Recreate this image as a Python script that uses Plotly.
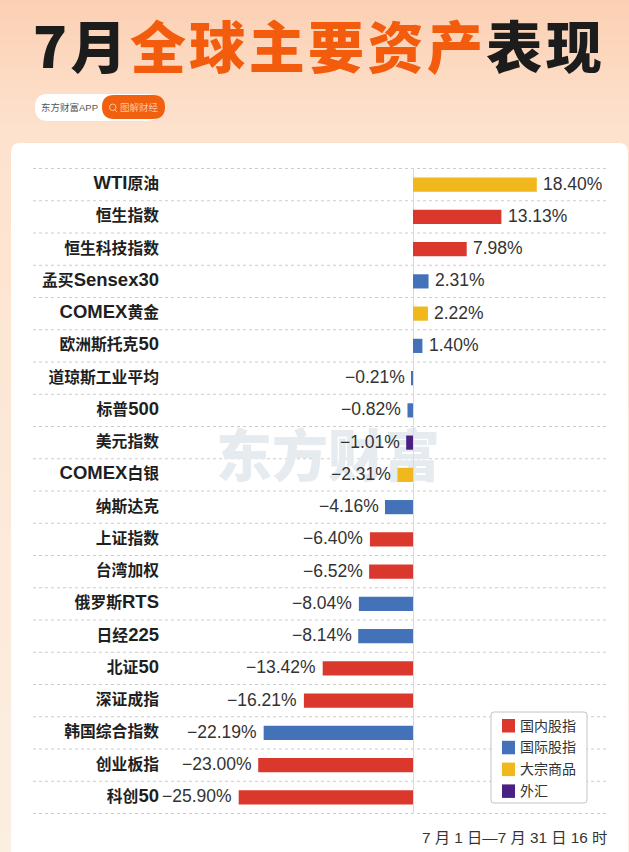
import re

import plotly.graph_objects as go

W, H = 629, 852

names = ['WTI原油', '恒生指数', '恒生科技指数', '孟买Sensex30', 'COMEX黄金', '欧洲斯托克50',
         '道琼斯工业平均', '标普500', '美元指数', 'COMEX白银', '纳斯达克', '上证指数',
         '台湾加权', '俄罗斯RTS', '日经225', '北证50', '深证成指', '韩国综合指数', '创业板指', '科创50']
changes = [18.40, 13.13, 7.98, 2.31, 2.22, 1.40, -0.21, -0.82, -1.01, -2.31, -4.16, -6.40,
           -6.52, -8.04, -8.14, -13.42, -16.21, -22.19, -23.00, -25.90]
groups = ['大宗商品', '国内股指', '国内股指', '国际股指', '大宗商品', '国际股指', '国际股指', '国际股指', '外汇', '大宗商品',
          '国际股指', '国内股指', '国内股指', '国际股指', '国际股指', '国内股指', '国内股指', '国际股指', '国内股指', '国内股指']
group_order = ['国内股指', '国际股指', '大宗商品', '外汇']
group_colors = ['#da382c', '#4472b8', '#f1b81e', '#4c1f82']

FONT = 'Liberation Sans, Arial, Noto Sans CJK SC'
CJK_BOLD = 'Noto Sans CJK SC'


def px_x(p):
    return p / W


def px_y(p):
    return 1 - p / H


# pixel positions of the plot, zero line sits at 413 and one percent is 6.73px
left, right, top, bottom = 160, 607, 168, 814
zero_px, unit_px = 413, 6.73


def lab(v):
    s = f'{abs(v):.2f}%'
    return '\u2212' + s if v < 0 else s


def tick(name):
    # chinese glyphs run smaller than the latin ones in these labels
    return re.sub(r'([^\x00-\x7f]+)', r'<span style="font-size:15.8px">\1</span>', name)


fig = go.Figure()
for g, c in zip(group_order, group_colors):
    idx = [i for i, x in enumerate(groups) if x == g]
    fig.add_trace(go.Bar(y=[names[i] for i in idx],
                         x=[changes[i] for i in idx],
                         name=g,
                         orientation='h',
                         width=0.44,
                         showlegend=False,
                         marker=dict(color=c, line=dict(width=0))))


def blend(a, b, t):
    return 'rgb(' + ','.join(str(round(x + (y - x) * t)) for x, y in zip(a, b)) + ')'


shapes = []
# peach background, drawn in thin bands since layout has no gradient
for i in range(28):
    shapes.append(dict(type='rect', xref='paper', yref='paper', layer='below',
                       x0=0, x1=1, y0=px_y(i * 5), y1=px_y((i + 1) * 5),
                       fillcolor=blend((252, 208, 180), (253, 227, 207), i / 27), line_width=0))
for i in range(24):
    shapes.append(dict(type='rect', xref='paper', yref='paper', layer='below',
                       x0=0, x1=1, y0=px_y(140 + i * 30), y1=px_y(140 + (i + 1) * 30),
                       fillcolor=blend((253, 227, 207), (251, 239, 226), i / 23), line_width=0))


def round_rect(x0, y0, x1, y1, r):
    # rounded rectangle as a path in paper fractions
    return (f'M {px_x(x0 + r)} {px_y(y0)} L {px_x(x1 - r)} {px_y(y0)} '
            f'Q {px_x(x1)} {px_y(y0)} {px_x(x1)} {px_y(y0 + r)} L {px_x(x1)} {px_y(y1 - r)} '
            f'Q {px_x(x1)} {px_y(y1)} {px_x(x1 - r)} {px_y(y1)} L {px_x(x0 + r)} {px_y(y1)} '
            f'Q {px_x(x0)} {px_y(y1)} {px_x(x0)} {px_y(y1 - r)} L {px_x(x0)} {px_y(y0 + r)} '
            f'Q {px_x(x0)} {px_y(y0)} {px_x(x0 + r)} {px_y(y0)} Z')


shapes.append(dict(type='path', xref='paper', yref='paper', layer='below',
                   path=round_rect(11, 143, 628, 900, 9), fillcolor='white', line_width=0))
shapes.append(dict(type='path', xref='paper', yref='paper', layer='below',
                   path=round_rect(35, 94, 160, 121, 13), fillcolor='white', line_width=0))
shapes.append(dict(type='path', xref='paper', yref='paper', layer='below',
                   path=round_rect(102, 95, 165, 119, 12), fillcolor='#f0600f', line_width=0))
# magnifier icon in the orange pill
shapes.append(dict(type='circle', xref='paper', yref='paper', layer='below',
                   x0=px_x(109.5), x1=px_x(116), y0=px_y(110.5), y1=px_y(104),
                   fillcolor='rgba(0,0,0,0)', line=dict(color='#f9c6a5', width=1)))
shapes.append(dict(type='line', xref='paper', yref='paper', layer='below',
                   x0=px_x(115), x1=px_x(117), y0=px_y(110), y1=px_y(112),
                   line=dict(color='#f9c6a5', width=1)))

# dotted row separators
for i in range(len(names) + 1):
    shapes.append(dict(type='line', xref='paper', yref='y', layer='below',
                       x0=px_x(33), x1=px_x(607), y0=i - 0.5, y1=i - 0.5,
                       line=dict(color='#cccccc', width=1, dash='dot')))

# watermark sits under the bars and labels
shapes.append(dict(type='rect', xref='paper', yref='paper', layer='below',
                   x0=px_x(200), x1=px_x(456), y0=px_y(495), y1=px_y(425),
                   fillcolor='rgba(0,0,0,0)', line_width=0,
                   label=dict(text='东方财富', textposition='middle center',
                              font=dict(family=CJK_BOLD, size=56, weight=900, color='#e6ebf0'))))

annotations = [
    dict(text='<span style="color:#1c1c1c;letter-spacing:3.4px">7月</span>'
              '<span style="color:#f25c0c;letter-spacing:3.4px">全球主要资产</span>'
              '<span style="color:#1c1c1c;letter-spacing:3.4px">表现</span>',
         xref='paper', yref='paper', x=px_x(319), y=px_y(43), xanchor='center', yanchor='middle',
         showarrow=False, font=dict(family=CJK_BOLD, size=56, weight=900)),
    dict(text='东方财富APP', xref='paper', yref='paper', x=px_x(69.5), y=px_y(107.5),
         xanchor='center', yanchor='middle', showarrow=False,
         font=dict(family=FONT, size=9.5, color='#555555')),
    dict(text='图解财经', xref='paper', yref='paper', x=px_x(139), y=px_y(107.5),
         xanchor='center', yanchor='middle', showarrow=False,
         font=dict(family=FONT, size=9.5, color='#f9c6a5')),
    dict(text='7 月 1 日—7 月 31 日 16 时', xref='paper', yref='paper', x=px_x(609), y=px_y(837),
         xanchor='right', yanchor='middle', showarrow=False,
         font=dict(family=FONT, size=15.3, color='#333333')),
]

# value labels as annotations, the bar text option leaves too small a gap
for n, v in zip(names, changes):
    annotations.append(dict(text=lab(v), x=v, y=n, xref='x', yref='y', showarrow=False,
                            xanchor='left' if v > 0 else 'right', yanchor='middle',
                            xshift=4.5 if v > 0 else -4.5, yshift=1,
                            font=dict(family=FONT, size=17.5, color='#333333')))

# hand drawn legend box, the built-in one cannot get this tight
shapes.append(dict(type='path', xref='paper', yref='paper', layer='above',
                   path=round_rect(491, 712, 587, 803, 3), fillcolor='white',
                   line=dict(color='#c4c4c4', width=1)))
for i, (g, c) in enumerate(zip(group_order, group_colors)):
    y0 = 719 + i * 21.8
    shapes.append(dict(type='rect', xref='paper', yref='paper', layer='above',
                       x0=px_x(502), x1=px_x(515), y0=px_y(y0), y1=px_y(y0 + 13.5),
                       fillcolor=c, line_width=0))
    annotations.append(dict(text=g, xref='paper', yref='paper', x=px_x(518), y=px_y(y0 + 6.5),
                            xanchor='left', yanchor='middle', showarrow=False,
                            font=dict(family=FONT, size=14, color='#333333')))

fig.update_layout(
    width=W, height=H,
    margin=dict(l=0, r=0, t=0, b=0),
    paper_bgcolor='white',
    plot_bgcolor='rgba(0,0,0,0)',
    barmode='overlay',
    showlegend=False,
    shapes=shapes,
    annotations=annotations,
    font=dict(family=FONT),
    xaxis=dict(domain=[px_x(left), px_x(right)],
               range=[(left - zero_px) / unit_px, (right - zero_px) / unit_px],
               showgrid=False, showticklabels=False, ticks='',
               zeroline=True, zerolinecolor='#d5dbe3', zerolinewidth=1),
    yaxis=dict(domain=[px_y(bottom), px_y(top)],
               type='category', categoryorder='array', categoryarray=names,
               tickmode='array', tickvals=names, ticktext=[tick(n) for n in names],
               autorange='reversed', showgrid=False, ticks='', ticklen=0,
               ticklabelshift=2,
               tickfont=dict(family=FONT, size=18.5, color='#1f1f1f', weight='bold')),
)

fig.write_html('out.html', config=dict(displayModeBar=False),
               post_script="document.body.style.margin='0';")
